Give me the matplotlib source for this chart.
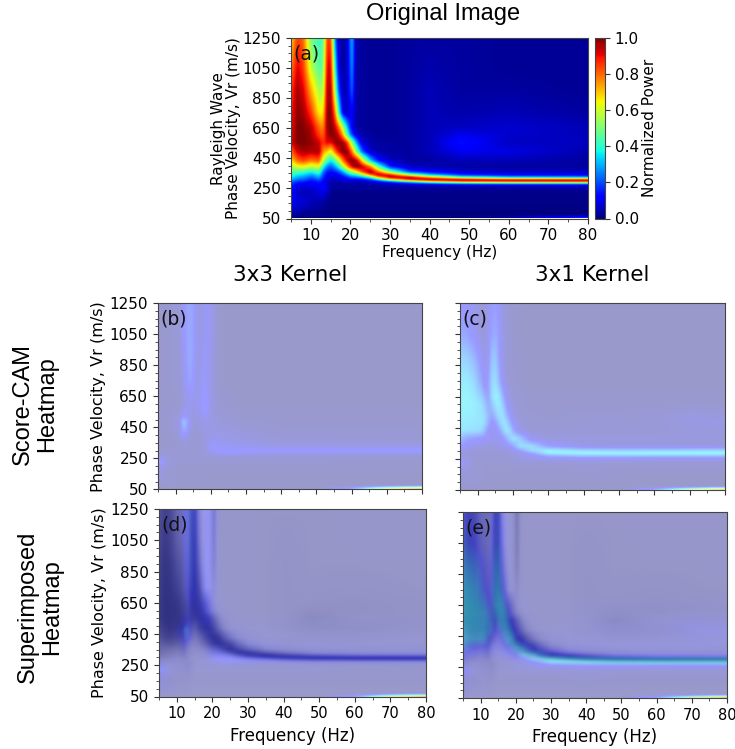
import numpy as np
import matplotlib
matplotlib.use('Agg')
import matplotlib.pyplot as plt
from matplotlib.colors import LinearSegmentedColormap
from matplotlib.ticker import MultipleLocator

W, H = 735, 749

# power map, panel (a), percent of full scale, rows from top of the axis down
freq_a = [5, 6.5, 8, 10, 12, 13, 14, 15, 16, 17, 18, 19, 20, 20.5, 21, 22, 23, 25, 27, 30, 35, 40, 48, 60, 80]
vel_a = [1250, 1050, 900, 750, 650, 600, 550, 490, 430, 390, 355, 335, 320, 308, 300, 292, 285, 270, 250, 220, 150, 70, 58, 50]
power = [
    [68, 85, 80, 48, 42, 44, 85, 85, 25, 4, 3, 5, 25, 35, 7, 3, 3, 2, 2, 2, 3, 3, 3, 2, 2],
    [78, 92, 85, 58, 45, 48, 92, 93, 40, 8, 3, 5, 22, 30, 6, 3, 3, 2, 2, 2, 3, 4, 3, 2, 2],
    [85, 97, 92, 72, 55, 55, 97, 97, 55, 18, 4, 5, 18, 25, 5, 3, 3, 2, 2, 2, 3, 5, 3, 3, 2],
    [88, 99, 97, 85, 65, 65, 99, 100, 80, 40, 10, 5, 10, 12, 5, 3, 3, 2, 2, 2, 3, 5, 4, 5, 3],
    [90, 100, 100, 95, 80, 75, 98, 100, 95, 80, 58, 35, 14, 10, 5, 3, 3, 2, 2, 2, 3, 5, 6, 7, 5],
    [91, 100, 100, 97, 85, 80, 95, 100, 98, 92, 75, 48, 25, 18, 12, 6, 4, 3, 2, 2, 3, 5, 10, 7, 5],
    [92, 100, 100, 98, 93, 85, 92, 90, 98, 100, 97, 88, 62, 50, 38, 18, 8, 4, 3, 3, 3, 5, 14, 6, 6],
    [80, 93, 97, 95, 97, 75, 70, 60, 80, 92, 100, 100, 85, 75, 62, 40, 20, 6, 4, 3, 3, 5, 10, 9, 4],
    [68, 80, 84, 78, 82, 60, 45, 35, 45, 60, 78, 92, 100, 100, 98, 88, 65, 32, 14, 6, 3, 3, 5, 5, 3],
    [55, 62, 65, 58, 62, 40, 25, 22, 28, 40, 55, 72, 88, 94, 98, 100, 95, 78, 45, 15, 6, 5, 3, 3, 3],
    [47, 44, 42, 38, 45, 25, 15, 13, 15, 20, 28, 40, 52, 56, 60, 72, 85, 100, 80, 50, 18, 12, 8, 6, 6],
    [42, 36, 34, 28, 35, 20, 12, 10, 10, 12, 18, 26, 35, 36, 36, 44, 55, 80, 98, 90, 55, 32, 15, 12, 10],
    [36, 30, 28, 22, 30, 17, 10, 8, 8, 10, 12, 15, 22, 24, 24, 26, 30, 45, 75, 98, 95, 70, 42, 28, 25],
    [33, 26, 24, 18, 24, 15, 8, 6, 6, 8, 10, 12, 14, 15, 15, 16, 18, 25, 45, 75, 98, 97, 85, 72, 70],
    [28, 22, 20, 15, 20, 14, 8, 5, 6, 6, 8, 10, 10, 10, 9, 9, 10, 15, 28, 50, 80, 95, 100, 100, 100],
    [24, 18, 17, 13, 17, 12, 8, 5, 5, 5, 6, 6, 6, 6, 5, 5, 6, 9, 15, 28, 50, 72, 90, 95, 97],
    [20, 15, 14, 12, 15, 12, 8, 4, 4, 4, 4, 4, 5, 5, 5, 5, 5, 6, 8, 14, 24, 40, 55, 62, 65],
    [16, 12, 10, 10, 12, 12, 8, 4, 3, 3, 3, 3, 3, 3, 3, 3, 3, 3, 4, 5, 6, 7, 9, 10, 10],
    [14, 8, 7, 8, 10, 14, 8, 4, 3, 3, 3, 3, 3, 3, 3, 3, 3, 3, 3, 3, 3, 3, 3, 3, 4],
    [13, 7, 5, 6, 8, 10, 6, 2, 1, 1, 1, 1, 1, 1, 1, 1, 1, 1, 1, 1, 1, 1, 1, 1, 1],
    [10, 8, 8, 5, 4, 3, 2, 1, 1, 1, 1, 1, 1, 1, 1, 1, 1, 1, 1, 1, 1, 1, 1, 1, 1],
    [4, 3, 2, 1, 1, 1, 0, 0, 0, 0, 0, 0, 0, 0, 0, 0, 0, 0, 0, 0, 0, 0, 0, 0, 0],
    [0, 0, 0, 0, 0, 0, 0, 0, 0, 0, 0, 0, 0, 0, 0, 0, 0, 0, 0, 0, 0, 0, 0, 1, 8],
    [0, 0, 0, 0, 0, 0, 0, 0, 0, 0, 0, 0, 0, 0, 0, 0, 0, 0, 0, 0, 0, 0, 0, 5, 20],
]

# Score-CAM maps, percent of full scale
freq_h = [5, 7, 9, 11, 12, 13, 14, 15, 16, 17, 18, 19, 20, 22, 25, 30, 40, 50, 60, 70, 80]
vel_h = [1250, 1050, 900, 750, 650, 600, 530, 480, 430, 380, 330, 300, 285, 270, 250, 225, 180, 120, 70, 58, 50]
cam_3x3 = [
    [1, 1, 2, 3, 10, 15, 17, 14, 6, 6, 9, 9, 8, 1, 0, 0, 0, 0, 0, 0, 0],
    [1, 1, 2, 3, 9, 15, 17, 14, 6, 6, 9, 9, 8, 1, 0, 0, 0, 0, 0, 0, 0],
    [1, 1, 2, 2, 8, 14, 18, 14, 6, 7, 10, 9, 7, 1, 0, 0, 0, 0, 0, 0, 0],
    [1, 1, 2, 2, 6, 12, 16, 12, 6, 8, 11, 9, 6, 1, 0, 0, 0, 0, 0, 0, 0],
    [1, 1, 1, 2, 4, 8, 10, 8, 7, 9, 13, 11, 6, 2, 1, 0, 0, 0, 0, 0, 0],
    [1, 1, 1, 2, 4, 7, 8, 7, 8, 10, 15, 12, 6, 2, 1, 0, 0, 0, 0, 0, 0],
    [1, 1, 2, 3, 9, 10, 7, 5, 6, 8, 11, 10, 6, 3, 2, 1, 1, 1, 1, 1, 1],
    [1, 1, 3, 6, 24, 20, 8, 4, 4, 5, 7, 7, 6, 4, 3, 2, 1, 1, 1, 1, 1],
    [1, 1, 2, 5, 18, 16, 6, 3, 3, 4, 5, 6, 6, 5, 5, 3, 2, 2, 2, 2, 2],
    [1, 1, 1, 3, 8, 7, 3, 2, 2, 3, 4, 5, 6, 7, 6, 5, 3, 3, 2, 2, 2],
    [1, 1, 1, 2, 3, 3, 2, 2, 2, 3, 4, 7, 12, 10, 8, 7, 5, 5, 5, 5, 5],
    [2, 2, 2, 2, 2, 2, 2, 2, 2, 3, 4, 6, 9, 13, 12, 12, 11, 12, 12, 13, 13],
    [3, 2, 2, 2, 2, 2, 2, 2, 3, 3, 4, 5, 8, 12, 15, 13, 12, 12, 13, 13, 13],
    [4, 3, 3, 2, 2, 2, 2, 2, 3, 3, 3, 4, 5, 6, 8, 6, 4, 4, 4, 4, 4],
    [8, 4, 3, 2, 2, 2, 2, 2, 2, 2, 2, 3, 3, 3, 3, 3, 3, 3, 2, 2, 2],
    [20, 6, 3, 2, 2, 2, 2, 2, 2, 2, 2, 2, 2, 2, 2, 2, 2, 2, 1, 1, 1],
    [6, 3, 2, 1, 1, 1, 1, 1, 1, 1, 1, 1, 1, 1, 1, 1, 1, 1, 1, 1, 1],
    [4, 3, 2, 1, 1, 1, 1, 1, 1, 1, 1, 1, 1, 0, 0, 0, 0, 0, 0, 0, 0],
    [2, 1, 1, 1, 0, 0, 0, 0, 0, 0, 0, 0, 0, 0, 0, 0, 0, 0, 0, 0, 0],
    [0, 0, 0, 0, 0, 0, 0, 0, 0, 0, 0, 0, 0, 0, 0, 0, 0, 0, 8, 35, 55],
    [0, 0, 0, 0, 0, 0, 0, 0, 0, 0, 0, 0, 0, 0, 0, 0, 0, 2, 20, 70, 85],
]
cam_3x1 = [
    [12, 10, 7, 3, 3, 8, 13, 14, 10, 5, 3, 2, 1, 1, 0, 0, 0, 0, 0, 0, 0],
    [18, 15, 10, 4, 3, 10, 16, 18, 13, 6, 3, 2, 1, 0, 0, 0, 0, 0, 0, 0, 0],
    [28, 26, 20, 10, 5, 12, 24, 24, 14, 6, 3, 2, 1, 1, 0, 0, 0, 0, 0, 0, 0],
    [33, 33, 28, 16, 8, 16, 28, 30, 20, 9, 4, 3, 2, 1, 0, 0, 0, 0, 0, 0, 0],
    [35, 35, 32, 26, 18, 15, 30, 34, 32, 20, 9, 5, 3, 2, 1, 1, 1, 1, 1, 1, 1],
    [35, 35, 34, 30, 24, 17, 24, 32, 33, 26, 14, 7, 4, 2, 1, 1, 1, 1, 1, 1, 1],
    [34, 34, 33, 31, 28, 20, 16, 24, 30, 31, 22, 12, 6, 3, 2, 1, 2, 2, 3, 5, 4],
    [33, 33, 32, 31, 28, 18, 10, 14, 24, 31, 30, 20, 10, 4, 2, 2, 2, 2, 3, 5, 6],
    [32, 31, 30, 28, 20, 10, 8, 10, 14, 24, 32, 30, 18, 6, 3, 3, 3, 3, 3, 4, 4],
    [22, 16, 14, 12, 11, 10, 8, 8, 8, 12, 18, 26, 32, 25, 8, 4, 4, 4, 4, 4, 4],
    [14, 9, 7, 6, 5, 5, 5, 5, 6, 7, 9, 12, 16, 30, 30, 14, 6, 5, 5, 5, 5],
    [7, 5, 4, 3, 3, 3, 3, 3, 4, 4, 5, 6, 8, 14, 28, 36, 30, 28, 28, 29, 30],
    [5, 4, 3, 2, 2, 2, 3, 3, 3, 3, 4, 4, 5, 8, 15, 34, 37, 37, 38, 38, 38],
    [4, 3, 3, 2, 2, 2, 2, 2, 3, 3, 3, 3, 3, 4, 8, 20, 25, 25, 25, 25, 25],
    [8, 5, 3, 3, 2, 2, 2, 2, 2, 3, 3, 3, 4, 5, 7, 8, 9, 9, 8, 8, 8],
    [16, 5, 3, 2, 2, 2, 2, 2, 2, 2, 2, 2, 3, 3, 3, 3, 4, 3, 3, 3, 3],
    [5, 3, 2, 2, 1, 1, 1, 1, 1, 1, 1, 1, 1, 1, 1, 1, 2, 1, 1, 1, 1],
    [3, 3, 2, 2, 1, 1, 1, 1, 1, 1, 1, 1, 1, 1, 1, 1, 1, 1, 0, 0, 0],
    [2, 2, 1, 1, 0, 0, 0, 0, 0, 0, 0, 0, 0, 0, 0, 0, 0, 0, 0, 0, 0],
    [0, 0, 0, 0, 0, 0, 0, 0, 0, 0, 0, 0, 0, 0, 0, 0, 0, 0, 8, 30, 55],
    [0, 0, 0, 0, 0, 0, 0, 0, 0, 0, 0, 0, 0, 0, 0, 0, 0, 2, 20, 65, 85],
]

y_ticks = [50, 250, 450, 650, 850, 1050, 1250]
x_ticks = [10, 20, 30, 40, 50, 60, 70, 80]
cb_ticks = [0, 0.2, 0.4, 0.6, 0.8, 1.0]

EXTENT = (5, 80, 50, 1250)
back_cmap = LinearSegmentedColormap.from_list('back', ['white', '#545480'])


def box(x0, y0, x1, y1):
    # pixel box, y measured from the top of the picture
    return [x0 / W, 1 - y1 / H, (x1 - x0) / W, (y1 - y0) / H]


def raster(freq, vel, table):
    # read values sit on an uneven grid, imshow wants an even one
    table = np.array(table) / 100
    fx = np.linspace(5, 80, 300)
    vy = np.linspace(1250, 50, 240)
    cols = np.array([np.interp(fx, freq, row) for row in table])
    img = np.array([np.interp(vy, np.array(vel)[::-1], c[::-1]) for c in cols.T]).T
    # the reference is a soft screenshot
    k = np.array([1, 2, 3, 2, 1]) / 9
    for axis in (0, 1):
        pad = [(2, 2) if a == axis else (0, 0) for a in (0, 1)]
        img = np.apply_along_axis(lambda m: np.convolve(m, k, 'valid'), axis, np.pad(img, pad, mode='edge'))
    return img


power_img = raster(freq_a, vel_a, power)
cam_3x3_img = raster(freq_h, vel_h, cam_3x3)
cam_3x1_img = raster(freq_h, vel_h, cam_3x1)


def style(ax, tag, xlabels, ylabels, size):
    ax.set_xlim(5, 80)
    ax.set_ylim(50, 1250)
    ax.set_xticks(x_ticks)
    ax.set_yticks(y_ticks)
    ax.xaxis.set_minor_locator(MultipleLocator(5))
    ax.yaxis.set_minor_locator(MultipleLocator(50))
    ax.tick_params(labelsize=size, length=3.5, width=0.8, color='#333333')
    ax.tick_params(which='minor', length=2, width=0.6, color='#333333')
    if not xlabels:
        ax.set_xticklabels([])
    if not ylabels:
        ax.set_yticklabels([])
    for s in ax.spines.values():
        s.set_color('#444444')
    ax.text(0.009, 0.965, tag, transform=ax.transAxes, fontsize=13.5, va='top', color='#111111')


def cam_panel(ax, cam, back=False):
    if back:
        ax.imshow(power_img, cmap=back_cmap, vmin=0, vmax=1, extent=EXTENT, aspect='auto', interpolation='bilinear')
    ax.imshow(cam, cmap='jet', vmin=0, vmax=1, alpha=0.4, extent=EXTENT, aspect='auto', interpolation='bilinear')


fig = plt.figure(figsize=(W / 100, H / 100), dpi=100)

ax_a = fig.add_axes(box(291, 38, 588, 218.5))
im = ax_a.imshow(power_img, cmap='jet', vmin=0, vmax=1, extent=EXTENT, aspect='auto', interpolation='bilinear')
style(ax_a, '(a)', True, True, 11)
ax_a.set_xlabel('Frequency (Hz)', fontsize=11, labelpad=1)
ax_a.set_ylabel('Rayleigh Wave\nPhase Velocity, Vr (m/s)', fontsize=11, labelpad=1, linespacing=1.05)

cax = fig.add_axes(box(595, 38, 605, 218.5))
cb = fig.colorbar(im, cax=cax)
cb.set_ticks(cb_ticks)
cb.ax.tick_params(labelsize=11, length=3.5, color='#333333')
cb.set_label('Normalized Power', fontsize=11, labelpad=2)
cb.outline.set_edgecolor('#444444')

ax_b = fig.add_axes(box(158, 303, 422, 489.5))
cam_panel(ax_b, cam_3x3_img)
style(ax_b, '(b)', False, True, 11)
ax_b.set_ylabel('Phase Velocity, Vr (m/s)', fontsize=11.5, labelpad=3)

ax_c = fig.add_axes(box(460, 303, 725, 490))
cam_panel(ax_c, cam_3x1_img)
style(ax_c, '(c)', False, False, 11)

ax_d = fig.add_axes(box(159, 509, 426, 696.5))
cam_panel(ax_d, cam_3x3_img, back=True)
style(ax_d, '(d)', True, True, 10.5)
ax_d.tick_params(axis='y', labelsize=11)
ax_d.set_xlabel('Frequency (Hz)', fontsize=12, labelpad=4)
ax_d.set_ylabel('Phase Velocity, Vr (m/s)', fontsize=11.5, labelpad=3)

ax_e = fig.add_axes(box(463, 512, 727, 698))
cam_panel(ax_e, cam_3x1_img, back=True)
style(ax_e, '(e)', True, False, 10.5)
ax_e.set_xlabel('Frequency (Hz)', fontsize=12, labelpad=4)

fig.text(443 / W, 1 - 14 / H, 'Original Image', fontsize=17, family='Liberation Sans', ha='center', va='center')
fig.text(290 / W, 1 - 275 / H, '3x3 Kernel', fontsize=15.5, ha='center', va='center')
fig.text(592 / W, 1 - 275 / H, '3x1 Kernel', fontsize=15.5, ha='center', va='center')
fig.text(35 / W, 1 - 404 / H, 'Score-CAM\nHeatmap', fontsize=17, family='Liberation Sans', rotation=90,
         ha='center', va='center', linespacing=1.1, multialignment='center')
fig.text(40 / W, 1 - 607 / H, 'Superimposed\nHeatmap', fontsize=17, family='Liberation Sans', rotation=90,
         ha='center', va='center', linespacing=1.1, multialignment='center')

fig.savefig('out.png', dpi=100)
